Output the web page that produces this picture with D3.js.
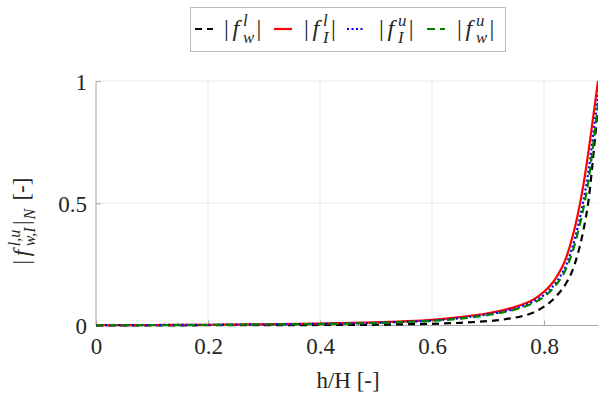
<!DOCTYPE html>
<html>
<head>
<meta charset="utf-8">
<script src="https://cdn.jsdelivr.net/npm/d3@7"></script>
<style>
  body { margin: 0; background: #fff; }
  text { font-family: "Liberation Serif"; }
</style>
</head>
<body>
<div id="chart"></div>
<script>
// Données
const hVals = [0, 0.1, 0.2, 0.3, 0.4, 0.5, 0.55, 0.6, 0.65, 0.7, 0.72, 0.74, 0.76, 0.78, 0.8, 0.82, 0.84, 0.85, 0.86, 0.87, 0.88, 0.89, 0.9];
const fwl = [0.000, 0.000, 0.001, 0.001, 0.002, 0.003, 0.005, 0.007, 0.011, 0.018, 0.022, 0.029, 0.038, 0.052, 0.077, 0.115, 0.175, 0.22, 0.29, 0.385, 0.52, 0.74, 0.98];
const fIl = [0.001, 0.002, 0.003, 0.005, 0.008, 0.013, 0.017, 0.023, 0.034, 0.050, 0.059, 0.070, 0.085, 0.105, 0.138, 0.19, 0.28, 0.355, 0.45, 0.57, 0.72, 0.89, 1.06];
const fIu = [0.001, 0.002, 0.003, 0.004, 0.007, 0.011, 0.015, 0.020, 0.030, 0.046, 0.054, 0.064, 0.078, 0.097, 0.125, 0.172, 0.25, 0.315, 0.40, 0.505, 0.64, 0.82, 1.0];
const fwu = [0.001, 0.001, 0.002, 0.004, 0.006, 0.010, 0.014, 0.019, 0.028, 0.043, 0.051, 0.060, 0.073, 0.091, 0.118, 0.162, 0.235, 0.295, 0.375, 0.475, 0.60, 0.78, 0.97];

const xTicks = [0, 0.2, 0.4, 0.6, 0.8];
const yTicks = [0, 0.5, 1];
const yTickLabels = ["0", "0.5", "1"];

const series = [
  {sup: "l", sub: "w", values: fwl, color: "#000000", dash: "7,5", width: 2.2},
  {sup: "l", sub: "I", values: fIl, color: "#ff0000", dash: null, width: 2.2},
  {sup: "u", sub: "I", values: fIu, color: "#0000ff", dash: "2,2.5", width: 2.2},
  {sup: "u", sub: "w", values: fwu, color: "#008000", dash: "8,5", width: 2.2}
];

// Constantes
const W = 598, H = 402;
const FONT = '"Liberation Serif"';
const plot = {left: 96, right: 600, top: 81, bottom: 325.5};

const svg = d3.select("#chart").append("svg")
  .attr("width", W)
  .attr("height", H)
  .attr("font-family", "Liberation Serif");

const x = d3.scaleLinear().domain([0, 0.9]).range([plot.left, plot.right]);
const y = d3.scaleLinear().domain([0, 1]).range([plot.bottom, plot.top]);

// Grille
svg.append("g")
  .selectAll("line")
  .data(xTicks.filter(d => d > 0))
  .join("line")
  .attr("x1", d => x(d)).attr("x2", d => x(d))
  .attr("y1", plot.top).attr("y2", plot.bottom)
  .attr("stroke", "#ebebeb").attr("stroke-width", 1);

svg.append("g")
  .selectAll("line")
  .data(yTicks.filter(d => d > 0))
  .join("line")
  .attr("x1", plot.left).attr("x2", plot.right)
  .attr("y1", d => y(d)).attr("y2", d => y(d))
  .attr("stroke", "#ebebeb").attr("stroke-width", 1);

// Axes
const xAxis = d3.axisBottom(x).tickValues(xTicks).tickSize(-5).tickPadding(12)
  .tickFormat(d => d === 0 ? "0" : d3.format(".1f")(d));
const yAxis = d3.axisLeft(y).tickValues(yTicks).tickSize(-5).tickPadding(9)
  .tickFormat((d, i) => yTickLabels[i]);

const gx = svg.append("g").attr("transform", `translate(0,${plot.bottom})`).call(xAxis);
const gy = svg.append("g").attr("transform", `translate(${plot.left},0)`).call(yAxis);

[gx, gy].forEach(g => {
  g.attr("font-family", "Liberation Serif").attr("font-size", 23);
  g.select(".domain").attr("stroke", "#a6a6a6").attr("stroke-width", 1);
  g.selectAll(".tick line").attr("stroke", "#a6a6a6");
  g.selectAll(".tick text")
    .attr("fill", "#262626")
    .attr("font-family", "Liberation Serif")
    .style("font-family", FONT)
    .style("font-size", "23px");
});
gx.select(".domain").attr("d", `M${plot.left},0H${plot.right}`);
gy.select(".domain").attr("d", `M0,${plot.bottom}V${plot.top}`);
gy.selectAll(".tick text").attr("dy", "0.35em");

// Courbes
svg.append("clipPath").attr("id", "clip")
  .append("rect")
  .attr("x", plot.left).attr("y", plot.top)
  .attr("width", plot.right - plot.left).attr("height", plot.bottom - plot.top + 6);

const line = d3.line()
  .x((d, i) => x(hVals[i]))
  .y(d => y(d))
  .curve(d3.curveMonotoneX);

svg.append("g").attr("clip-path", "url(#clip)")
  .selectAll("path")
  .data(series)
  .join("path")
  .attr("d", d => line(d.values))
  .attr("fill", "none")
  .attr("stroke", d => d.color)
  .attr("stroke-width", d => d.width)
  .attr("stroke-dasharray", d => d.dash);

// Texte mathématique en un seul <text> : |f^sup_sub| (+ indice, suffixe)
function mathLabel(parent, x0, yBase, size, sup, sub, extraSub, suffix) {
  const small = size * 0.7;
  const up = size * 0.4, down = size * 0.28;
  const t = parent.append("text")
    .attr("x", x0).attr("y", yBase)
    .attr("fill", "#262626")
    .attr("font-family", "Liberation Serif")
    .style("font-family", FONT)
    .style("font-size", size + "px");
  t.append("tspan").text("|");
  t.append("tspan").attr("dx", size * 0.15).style("font-style", "italic").text("f");
  const tsSup = t.append("tspan")
    .attr("dx", size * 0.16).attr("dy", -up)
    .style("font-style", "italic").style("font-size", small + "px").text(sup);
  const wSup = tsSup.node().getComputedTextLength();
  const tsSub = t.append("tspan")
    .attr("dx", -wSup).attr("dy", up + down)
    .style("font-style", "italic").style("font-size", small + "px").text(sub);
  const wSub = tsSub.node().getComputedTextLength();
  t.append("tspan")
    .attr("dx", Math.max(0, wSup - wSub) + size * 0.1).attr("dy", -down)
    .text("|");
  if (extraSub) {
    t.append("tspan").attr("dx", 1).attr("dy", down)
      .style("font-style", "italic").style("font-size", small + "px").text(extraSub);
    t.append("tspan").attr("dx", size * 0.35).attr("dy", -down).text(suffix);
  }
  return t.node().getBBox().width;
}

// Légende
const legend = svg.append("g");
legend.append("rect")
  .attr("x", 190.5).attr("y", 7.5)
  .attr("width", 315).attr("height", 44)
  .attr("fill", "#fff").attr("stroke", "#bdbdbd").attr("stroke-width", 1);

const legPos = [
  {lx: 195, tx: 224},
  {lx: 274, tx: 304},
  {lx: 347, tx: 379},
  {lx: 427, tx: 457}
];
series.forEach((s, i) => {
  legend.append("line")
    .attr("x1", legPos[i].lx).attr("x2", legPos[i].lx + 18)
    .attr("y1", 29).attr("y2", 29)
    .attr("stroke", s.color).attr("stroke-width", s.width)
    .attr("stroke-dasharray", s.dash);
  mathLabel(legend, legPos[i].tx, 36, 24, s.sup, s.sub, null, null);
});

// Titres des axes
svg.append("text")
  .attr("x", x(0.45)).attr("y", 388)
  .attr("text-anchor", "middle")
  .attr("font-family", "Liberation Serif")
  .style("font-family", FONT)
  .style("font-size", "23px")
  .attr("fill", "#262626")
  .text("h/H [-]");

const yl = svg.append("g");
const wl = mathLabel(yl, 0, 0, 23, "l,u", "w,I", "N", "[-]");
yl.attr("transform", `translate(29,${221 + wl / 2}) rotate(-90)`);
</script>
</body>
</html>
